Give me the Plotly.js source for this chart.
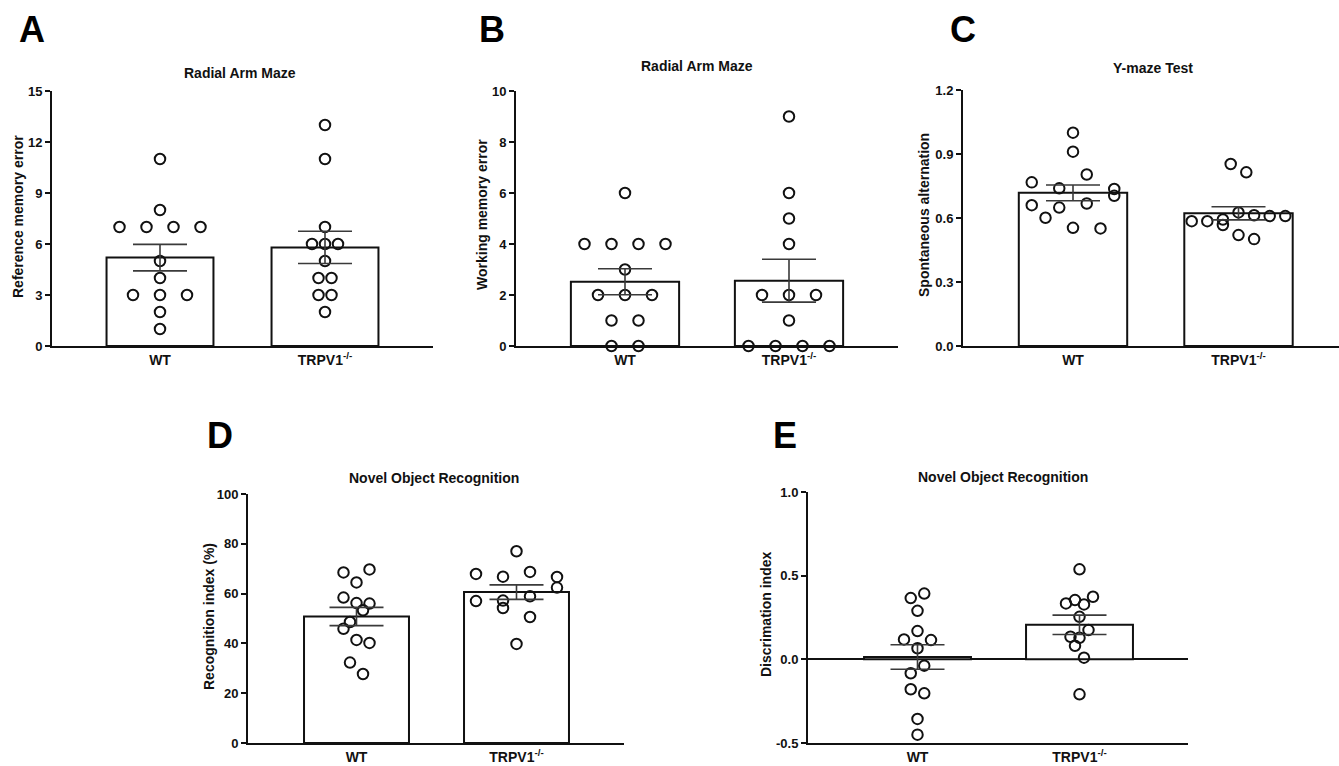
<!DOCTYPE html>
<html><head><meta charset="utf-8">
<script src="https://cdn.plot.ly/plotly-3.0.1.min.js"></script>
<style>html,body{margin:0;padding:0;background:#fff;overflow:hidden}#chart{width:1339px;height:766px}</style>
</head><body><div id="chart"></div>
<script>
// ---------- DATA ----------
const categories = ['WT', 'TRPV1<sup>-/-</sup>'];

// A: Radial Arm Maze – reference memory error
const aWT = [11, 8, 7, 7, 7, 7, 5, 4, 3, 3, 3, 2, 1];
const aKO = [13, 11, 7, 6, 6, 6, 5, 4, 4, 3, 3, 2];
const aMean = [5.2, 5.8];
const aSem = [0.78, 0.95];

// B: Radial Arm Maze – working memory error
const bWT = [6, 4, 4, 4, 4, 3, 2, 2, 2, 1, 1, 0, 0];
const bKO = [9, 6, 5, 4, 2, 2, 2, 1, 0, 0, 0, 0];
const bMean = [2.52, 2.56];
const bSem = [0.51, 0.84];

// C: Y-maze – spontaneous alternation
const cWT = [1.00, 0.911, 0.767, 0.739, 0.804, 0.736, 0.660, 0.649, 0.668, 0.704, 0.601, 0.554, 0.551];
const cKO = [0.853, 0.814, 0.585, 0.585, 0.593, 0.626, 0.613, 0.609, 0.609, 0.567, 0.520, 0.501];
const cMean = [0.718, 0.622];
const cSem = [0.037, 0.031];

// D: Novel object recognition – recognition index (%)
const dWT = [68.5, 64.5, 69.7, 58.4, 56.2, 56.0, 48.6, 53.3, 45.9, 41.4, 40.2, 32.3, 27.7];
const dKO = [77.0, 67.9, 66.8, 68.7, 66.7, 57.0, 57.2, 58.9, 62.4, 54.2, 50.6, 39.8];
const dMean = [50.8, 60.6];
const dSem = [3.65, 2.9];

// E: Novel object recognition – discrimination index
const eWT = [0.366, 0.393, 0.290, 0.119, 0.169, 0.115, 0.066, -0.083, -0.038, -0.179, -0.203, -0.356, -0.450];
const eKO = [0.538, 0.334, 0.354, 0.328, 0.374, 0.254, 0.135, 0.129, 0.175, 0.081, 0.010, -0.209];
const eMean = [0.014, 0.206];
const eSem = [0.073, 0.058];

// Tick labels
const aTicks = ['0', '3', '6', '9', '12', '15'];
const bTicks = ['0', '2', '4', '6', '8', '10'];
const cTicks = ['0.0', '0.3', '0.6', '0.9', '1.2'];
const dTicks = ['0', '20', '40', '60', '80', '100'];
const eTicks = ['-0.5', '0.0', '0.5', '1.0'];

// Titles
const panelLetters = ['A', 'B', 'C', 'D', 'E'];
const plotTitles = ['Radial Arm Maze', 'Radial Arm Maze', 'Y-maze Test', 'Novel Object Recognition', 'Novel Object Recognition'];
const yTitles = ['Reference memory error', 'Working memory error', 'Spontaneous alternation', 'Recognition index (%)', 'Discrimation index'];

// ---------- LAYOUT / STYLE ----------
const W = 1339, H = 766;
const FONT = 'Liberation Sans, Arial, sans-serif';
const INK = '#111';

const panels = [
  {wt: aWT, ko: aKO, mean: aMean, sem: aSem, ticks: aTicks, x0: 52, x1: 433, y0: 91, y1: 346, c0: 160, c1: 325, bw: 0.648,
   letter: [32, 30], title: [240, 73], ytitle: [18, 217], gaps: [27, 13], maxRow: [99, 99]},
  {wt: bWT, ko: bKO, mean: bMean, sem: bSem, ticks: bTicks, x0: 516, x1: 898, y0: 91, y1: 346, c0: 625, c1: 789, bw: 0.66,
   letter: [492, 30], title: [697, 66], ytitle: [482, 215], gaps: [27, 27], maxRow: [99, 99]},
  {wt: cWT, ko: cKO, mean: cMean, sem: cSem, ticks: cTicks, x0: 963, x1: 1339, y0: 90, y1: 346, c0: 1073, c1: 1238.5, bw: 0.655,
   letter: [963, 30], title: [1153, 68], ytitle: [924, 215], gaps: [27.5, 15.6], maxRow: [99, 7]},
  {wt: dWT, ko: dKO, mean: dMean, sem: dSem, ticks: dTicks, x0: 248, x1: 624, y0: 494, y1: 743, c0: 356.5, c1: 516.5, bw: 0.656,
   letter: [220, 435], title: [434, 478], ytitle: [209, 617], gaps: [13, 27], maxRow: [99, 99]},
  {wt: eWT, ko: eKO, mean: eMean, sem: eSem, ticks: eTicks, x0: 808, x1: 1188, y0: 492, y1: 743, c0: 917.5, c1: 1079.5, bw: 0.66,
   letter: [785, 435], title: [1003, 477], ytitle: [766, 614], gaps: [13.5, 9], maxRow: [99, 99], zero: true}
];

// simple row-based scatter spreading (like a dot plot): consecutive points whose
// vertical span stays under ROWH pixels share a row and are centred side by side
const ROWH = 15.2;
function spread(vals, pxPerUnit, gap, maxRow) {
  const rows = []; let cur = [];
  vals.forEach((v, i) => {
    if (cur.length) {
      const vs = cur.map(j => vals[j]).concat([v]);
      const span = (Math.max(...vs) - Math.min(...vs)) * pxPerUnit;
      if (span > ROWH || cur.length >= maxRow) { rows.push(cur); cur = []; }
    }
    cur.push(i);
  });
  if (cur.length) rows.push(cur);
  const off = new Array(vals.length).fill(0);
  rows.forEach(r => r.forEach((idx, k) => { off[idx] = (k - (r.length - 1) / 2) * gap; }));
  return off;
}

const traces = [];
const layout = {
  width: W, height: H, margin: {l: 0, r: 0, t: 0, b: 0},
  paper_bgcolor: '#fff', plot_bgcolor: 'rgba(0,0,0,0)',
  showlegend: false, hovermode: false, annotations: [],
  font: {family: FONT, color: INK, size: 14}
};

panels.forEach((p, i) => {
  const n = i + 1;
  const xa = 'x' + (n === 1 ? '' : n), ya = 'y' + (n === 1 ? '' : n);
  const xk = 'xaxis' + (n === 1 ? '' : n), yk = 'yaxis' + (n === 1 ? '' : n);
  const tickvals = p.ticks.map(Number);
  const yr = [tickvals[0], tickvals[tickvals.length - 1]];
  const pxPerCat = p.c1 - p.c0;
  const pxPerUnit = (p.y1 - p.y0) / (yr[1] - yr[0]);

  layout[xk] = {
    domain: [p.x0 / W, p.x1 / W], anchor: ya,
    range: [(p.x0 - p.c0) / pxPerCat, 1 + (p.x1 - p.c1) / pxPerCat],
    tickvals: [0, 1], ticktext: categories.map(c => '<b>' + c + '</b>'), ticks: '',
    showline: true, linecolor: INK, linewidth: 2, showgrid: false, zeroline: false,
    tickfont: {family: FONT, size: 14, color: INK}, fixedrange: true
  };
  layout[yk] = {
    domain: [1 - p.y1 / H, 1 - p.y0 / H], anchor: xa,
    range: yr, tickvals: tickvals, ticktext: p.ticks.map(t => '<b>' + t + '</b>'),
    ticks: 'outside', ticklen: 5, tickwidth: 2, tickcolor: INK,
    showline: true, linecolor: INK, linewidth: 2, showgrid: false,
    zeroline: !!p.zero, zerolinecolor: INK, zerolinewidth: 2,
    tickfont: {family: FONT, size: 13, color: INK}, fixedrange: true
  };

  // bars (group means)
  traces.push({
    type: 'bar', x: [0, 1], y: p.mean, xaxis: xa, yaxis: ya, width: p.bw,
    marker: {color: '#fff', line: {color: INK, width: 2}}
  });

  // individual animals
  [p.wt, p.ko].forEach((vals, g) => {
    const off = spread(vals, pxPerUnit, p.gaps[g], p.maxRow[g]);
    traces.push({
      type: 'scatter', mode: 'markers', xaxis: xa, yaxis: ya, cliponaxis: false,
      x: vals.map((v, k) => g + off[k] / pxPerCat), y: vals,
      marker: {size: 10.5, color: 'rgba(255,255,255,0)', line: {color: INK, width: 2}}
    });
  });

  // mean ± SEM
  traces.push({
    type: 'scatter', mode: 'markers', x: [0, 1], y: p.mean, xaxis: xa, yaxis: ya,
    marker: {size: 1, opacity: 0},
    error_y: {type: 'data', array: p.sem, visible: true, color: '#3a3a3a', thickness: 1.6, width: 27}
  });

  const A = layout.annotations;
  A.push({xref: 'paper', yref: 'paper', x: p.letter[0] / W, y: 1 - p.letter[1] / H, xanchor: 'center', yanchor: 'middle',
          text: '<b>' + panelLetters[i] + '</b>', showarrow: false, font: {family: FONT, size: 36, color: '#000'}});
  A.push({xref: 'paper', yref: 'paper', x: p.title[0] / W, y: 1 - p.title[1] / H, xanchor: 'center', yanchor: 'middle',
          text: '<b>' + plotTitles[i] + '</b>', showarrow: false, font: {family: FONT, size: 14, color: INK}});
  A.push({xref: 'paper', yref: 'paper', x: p.ytitle[0] / W, y: 1 - p.ytitle[1] / H, xanchor: 'center', yanchor: 'middle',
          textangle: -90, text: '<b>' + yTitles[i] + '</b>', showarrow: false, font: {family: FONT, size: 14, color: INK}});
});

Plotly.newPlot('chart', traces, layout, {staticPlot: true, displayModeBar: false}).then(gd => {
  // drop the empty placeholder title nodes that Plotly leaves for untitled axes
  gd.querySelectorAll('text').forEach(t => { if (!t.textContent.trim()) t.remove(); });
});
</script>
</body></html>
